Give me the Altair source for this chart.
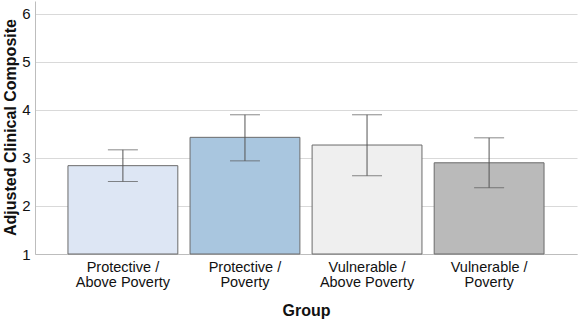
import altair as alt
import pandas as pd

groups = ["Protective / Above Poverty", "Protective / Poverty",
          "Vulnerable / Above Poverty", "Vulnerable / Poverty"]
means = [2.84, 3.43, 3.27, 2.90]
upper = [3.17, 3.90, 3.90, 3.42]
lower = [2.51, 2.94, 2.63, 2.38]
colors = ["#dde6f4", "#a9c6df", "#efefef", "#bababa"]

df = pd.DataFrame({"group": groups, "mean": means, "hi": upper, "lo": lower})

FONT = "Liberation Sans"

x = alt.X("group:N", sort=groups,
          scale=alt.Scale(paddingInner=0.1, paddingOuter=0.27),
          axis=alt.Axis(title="Group", labelAngle=0, ticks=False,
                        labelExpr="[split(datum.label, ' / ')[0] + ' /', split(datum.label, ' / ')[1]]",
                        labelFontSize=14.5, labelLineHeight=15, labelPadding=6,
                        labelColor="#111", titleFontSize=16, titleFontWeight="bold",
                        titleColor="#111", titleY=48, titleBaseline="top",
                        domainColor="#bdbdbd", labelFont=FONT, titleFont=FONT))

yscale = alt.Scale(domain=[1, 6.27], nice=False, zero=False)

bars = alt.Chart(df).mark_bar(stroke="#6b6b6b", strokeWidth=1).encode(
    x=x,
    y=alt.Y("mean:Q", scale=yscale,
            axis=alt.Axis(title="Adjusted Clinical Composite", values=[1, 2, 3, 4, 5, 6],
                          ticks=False, labelFontSize=15, labelPadding=5, labelColor="#111",
                          titleFontSize=16, titleFontWeight="bold", titleColor="#111",
                          titleX=-17, titleY=126, gridColor="#d9d9d9",
                          domainColor="#bdbdbd", labelFont=FONT, titleFont=FONT)),
    y2=alt.datum(1),
    color=alt.Color("group:N", sort=groups,
                    scale=alt.Scale(domain=groups, range=colors), legend=None),
)

rules = alt.Chart(df).mark_rule(color="#555555", strokeWidth=1).encode(
    x=alt.X("group:N", sort=groups),
    y=alt.Y("lo:Q", scale=yscale),
    y2="hi:Q",
)

cap_hi = alt.Chart(df).mark_tick(color="#555555", thickness=1, size=30).encode(
    x=alt.X("group:N", sort=groups),
    y=alt.Y("hi:Q", scale=yscale),
)
cap_lo = alt.Chart(df).mark_tick(color="#555555", thickness=1, size=30).encode(
    x=alt.X("group:N", sort=groups),
    y=alt.Y("lo:Q", scale=yscale),
)

chart = alt.layer(bars, rules, cap_hi, cap_lo).properties(
    width=542, height=253,
    autosize=alt.AutoSizeParams(type="none"),
    padding={"left": 35, "top": 1, "right": 1, "bottom": 65},
).configure_view(strokeWidth=0).configure_axis(grid=False).configure_axisY(grid=True)

chart.save("out.html", embed_options={"renderer": "svg", "actions": False})
